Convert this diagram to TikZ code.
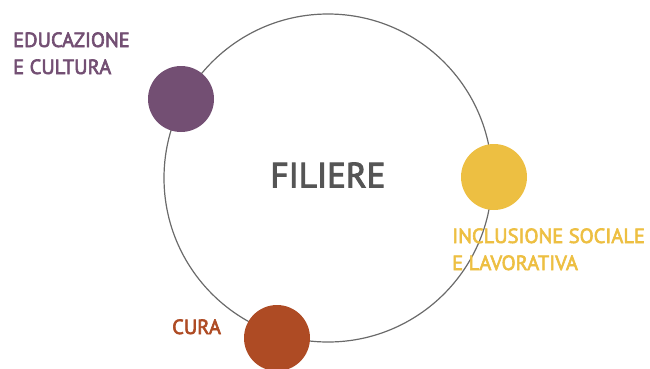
\documentclass[tikz,border=0pt]{standalone}
\usepackage{fontspec}
\setmainfont{PT Sans}[FakeBold=3]
\usepackage{tikz}
\usetikzlibrary{positioning}

\definecolor{viola}{HTML}{734F73}
\definecolor{giallo}{HTML}{EDBF42}
\definecolor{ruggine}{HTML}{AE4B24}
\definecolor{grigio}{HTML}{555555}
\definecolor{anello}{HTML}{6A6A6A}

\begin{document}
\begin{tikzpicture}[x=1pt,y=-1pt,
  dot/.style={circle,minimum size=66pt,inner sep=0pt},
  lab/.style={align=left,inner sep=0pt,font=\fontsize{20.5}{27}\selectfont}]
\useasboundingbox (0,0) rectangle (650,368);
% Filiere ring
\node[circle,draw=anello,line width=1.2pt,minimum size=328pt,inner sep=0pt] (ring) at (328,178) {};
\node[text=grigio,font=\fontsize{35}{40}\selectfont] (title) at (328,175) {FILIERE};

% Dots on the ring
\node[dot,fill=viola] (edu) at (181,99) {};
\node[dot,fill=giallo] (incl) at (494,177) {};
\node[dot,fill=ruggine] (cura) at (277,338) {};

% Labels
\node[lab,text=viola,anchor=base west] (edulab) at (13,74) {EDUCAZIONE\\E CULTURA};
\node[lab,text=giallo,anchor=base west] (incllab) at (452,270) {INCLUSIONE SOCIALE\\E LAVORATIVA};
\node[lab,text=ruggine,anchor=base west] (curalab) at (172,334) {CURA};
\end{tikzpicture}
\end{document}
